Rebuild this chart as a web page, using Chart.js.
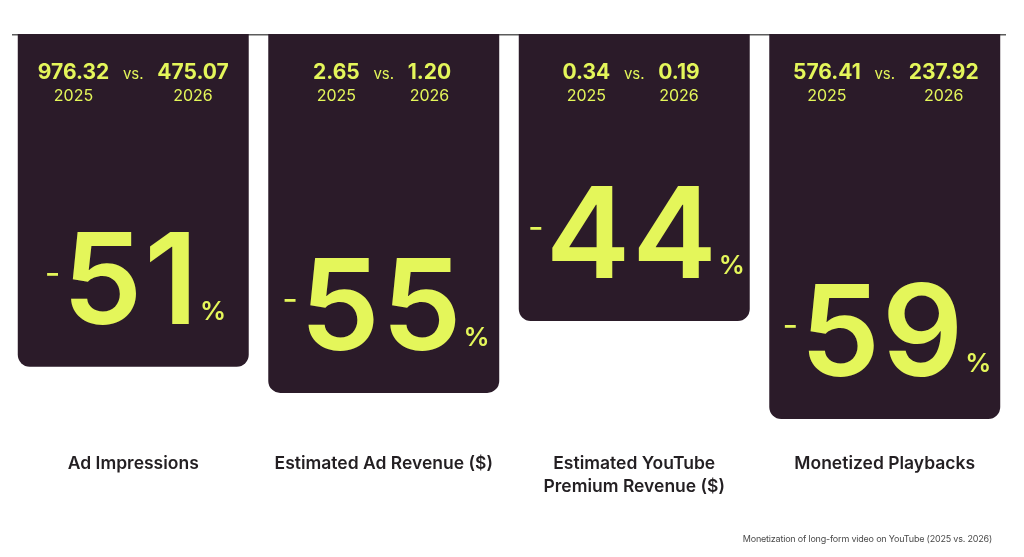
<!DOCTYPE html>
<html>
<head>
<meta charset="utf-8">
<script src="https://cdn.jsdelivr.net/npm/chart.js@4.4.1/dist/chart.umd.min.js"></script>
<style>
    html, body { margin: 0; padding: 0; background: #fff; }
    #wrap { width: 1024px; height: 557px; position: relative; }
</style>
</head>
<body>
<div id="wrap"><canvas id="monetisasi"></canvas></div>
<script>
// data
const categories = [
    ["Ad Impressions"],
    ["Estimated Ad Revenue ($)"],
    ["Estimated YouTube", "Premium Revenue ($)"],
    ["Monetized Playbacks"],
];
const declinePct = [51, 55, 44, 59];
const values2025 = [976.32, 2.65, 0.34, 576.41];
const values2026 = [475.07, 1.2, 0.19, 237.92];
const yearLabels = ["2025", "2026"];
const caption = "Monetization of long-form video on YouTube (2025 vs. 2026)";

const BAR = "#2b1b29";
const LIME = "#e4f65a";
const FONT = "Inter, 'Noto Sans', sans-serif";

// top rule + all texts drawn around the bars
const barText = {
    id: "barText",
    beforeDatasetsDraw(chart) {
        const { ctx, chartArea } = chart;
        ctx.save();
        ctx.strokeStyle = "#5c5c5c";
        ctx.lineWidth = 1.5;
        ctx.beginPath();
        ctx.moveTo(chartArea.left + 4, chartArea.top + 0.75);
        ctx.lineTo(chartArea.right - 4, chartArea.top + 0.75);
        ctx.stroke();
        ctx.restore();
    },
    afterDatasetsDraw(chart) {
        const { ctx } = chart;
        const meta = chart.getDatasetMeta(0);
        ctx.save();
        meta.data.forEach((bar, i) => {
            const cx = bar.x;
            const top = bar.base;
            const bottom = bar.y;

            // 2025 vs. 2026 row
            ctx.fillStyle = LIME;
            ctx.textBaseline = "alphabetic";
            ctx.letterSpacing = "0px";
            ctx.font = `700 21px ${FONT}`;
            const a = values2025[i].toFixed(2);
            const b = values2026[i].toFixed(2);
            const wa = ctx.measureText(a).width;
            const wb = ctx.measureText(b).width;
            ctx.textAlign = "right";
            ctx.fillText(a, cx - 24, top + 45);
            ctx.textAlign = "left";
            ctx.fillText(b, cx + 24, top + 45);
            ctx.font = `400 15px ${FONT}`;
            ctx.textAlign = "center";
            ctx.fillText("vs.", cx, top + 45);
            ctx.font = `400 16px ${FONT}`;
            ctx.fillText(yearLabels[0], cx - 24 - wa / 2, top + 67);
            ctx.fillText(yearLabels[1], cx + 24 + wb / 2, top + 67);

            // big percentage
            const base = bottom - 43;
            const num = String(declinePct[i]);
            ctx.font = `600 127px ${FONT}`;
            ctx.letterSpacing = "2px";
            const w = ctx.measureText(num).width - 2;
            const left = cx - 3 - w / 2;
            ctx.textAlign = "left";
            ctx.fillText(num, left, base);
            ctx.letterSpacing = "0px";
            ctx.font = `400 34px ${FONT}`;
            ctx.textAlign = "right";
            ctx.fillText("-", left - 2, base - 39);
            ctx.font = `600 26px ${FONT}`;
            ctx.textAlign = "left";
            ctx.fillText("%", left + w + 2, base - 4);

            // category label under the bars
            ctx.fillStyle = "#231f22";
            ctx.font = `600 17.5px ${FONT}`;
            ctx.textAlign = "center";
            categories[i].forEach((line, k) => {
                ctx.fillText(line, cx, 469 + k * 23);
            });
        });

        ctx.fillStyle = "#4a4a4a";
        ctx.font = `400 9px ${FONT}`;
        ctx.letterSpacing = "-0.2px";
        ctx.textAlign = "right";
        ctx.fillText(caption, 992, 542);
        ctx.restore();
    },
};

const ctx = document.getElementById("monetisasi").getContext("2d");
const chart = new Chart(ctx, {
    type: "bar",
    data: {
        labels: categories,
        datasets: [
            {
                data: declinePct,
                backgroundColor: BAR,
                borderRadius: 12,
                borderSkipped: "start",
                barPercentage: 0.922,
                categoryPercentage: 1,
            },
        ],
    },
    options: {
        responsive: true,
        maintainAspectRatio: false,
        animation: false,
        layout: {
            padding: { top: 34, bottom: 1, left: 8, right: 14 },
        },
        scales: {
            x: { display: false },
            y: {
                display: false,
                reverse: true,
                min: 0,
                max: 80,
            },
        },
        plugins: {
            legend: { display: false },
            tooltip: { enabled: false },
        },
        events: [],
    },
    plugins: [barText],
});
</script>
</body>
</html>
